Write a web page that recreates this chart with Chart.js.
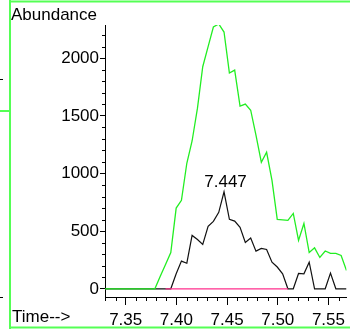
<!DOCTYPE html>
<html>
<head>
<meta charset="utf-8">
<script src="https://cdn.jsdelivr.net/npm/chart.js@4.4.0/dist/chart.umd.min.js"></script>
<style>
html, body { margin: 0; padding: 0; background: #fff; }
#wrap { width: 350px; height: 329px; }
</style>
</head>
<body>
<div id="wrap"><canvas id="ionChart" width="350" height="329"></canvas></div>
<script>
// scan times (min)
const times = [7.3263, 7.3315, 7.3368, 7.3420, 7.3473, 7.3525, 7.3578, 7.3630, 7.3683, 7.3735,
  7.3788, 7.3840, 7.3893, 7.3945, 7.3998, 7.4050, 7.4103, 7.4155, 7.4208, 7.4260,
  7.4313, 7.4365, 7.4418, 7.4470, 7.4523, 7.4575, 7.4628, 7.4680, 7.4733, 7.4785,
  7.4838, 7.4890, 7.4943, 7.4995, 7.5048, 7.5100, 7.5153, 7.5205, 7.5258, 7.5310,
  7.5363, 7.5415, 7.5468, 7.5520, 7.5573, 7.5625, 7.5678, 7.5730]

// green trace
const ticAbundance = [0, 0, 0, 0, 0, 0, 0, 0, 0, 0,
  0, 107, 211, 315, 700, 767, 1089, 1282, 1567, 1926,
  2100, 2271, 2297, 2227, 1871, 1897, 1584, 1602, 1549, 1332,
  1097, 1184, 941, 602, 598, 594, 654, 420, 567, 315,
  355, 272, 328, 307, 307, 289, 159, 120]

// black trace
const ionAbundance = [0, 0, 0, 0, 0, 0, 0, 0, 0, 0,
  0, 0, 0, 0, 130, 240, 222, 463, 428, 385,
  541, 585, 663, 841, 602, 587, 533, 402, 441, 327,
  350, 341, 231, 189, 130, 0, 0, 133, 130, 231,
  0, 0, 0, 136, 0, 0, 0, 0]

// integration baseline
const baseTimes = [7.3893, 7.5100]
const baseValues = [0, 0]

const xTicks = [7.35, 7.40, 7.45, 7.50, 7.55]
const yTicks = [0, 500, 1000, 1500, 2000]
const peakTime = 7.447
const peakLabel = "7.447"

const FONT = "Liberation Sans, Arial, sans-serif"

function toPoints(xs, ys) {
  return xs.map((x, i) => ({ x: x, y: ys[i] }))
}

const extrasPlugin = {
  id: 'extras',
  beforeDraw(chart) {
    const ctx = chart.ctx
    ctx.save()
    ctx.fillStyle = '#fff'
    ctx.fillRect(0, 0, chart.width, chart.height)
    // green frame
    ctx.strokeStyle = '#55ff55'
    ctx.lineWidth = 2
    ctx.beginPath()
    ctx.moveTo(10, 1.5); ctx.lineTo(350, 1.5)
    ctx.moveTo(10, 0); ctx.lineTo(10, 329)
    ctx.moveTo(10, 327.5); ctx.lineTo(350, 327.5)
    ctx.moveTo(0, 111); ctx.lineTo(10, 111)
    ctx.stroke()
    ctx.strokeStyle = '#000'
    ctx.lineWidth = 1
    ctx.beginPath()
    ctx.moveTo(0, 79.5); ctx.lineTo(3, 79.5)
    ctx.moveTo(0, 297.5); ctx.lineTo(3, 297.5)
    ctx.stroke()
    ctx.restore()
  },
  afterDraw(chart) {
    const ctx = chart.ctx
    const xs = chart.scales.x
    const ys = chart.scales.y
    ctx.save()
    ctx.strokeStyle = '#000'
    ctx.lineWidth = 1
    ctx.beginPath()
    // minor ticks on x
    for (let i = 733; i <= 756; i++) {
      if (i % 5 === 0) continue
      const px = Math.round(xs.getPixelForValue(i / 100)) + 0.5
      ctx.moveTo(px, xs.top)
      ctx.lineTo(px, xs.top + 4)
    }
    // minor ticks on y
    for (let v = 100; v <= 2200; v += 100) {
      if (v % 500 === 0) continue
      const py = Math.round(ys.getPixelForValue(v)) + 0.5
      ctx.moveTo(ys.right - 3, py)
      ctx.lineTo(ys.right, py)
    }
    ctx.stroke()

    ctx.fillStyle = '#000'
    ctx.font = '17px ' + FONT
    ctx.textAlign = 'left'
    ctx.textBaseline = 'alphabetic'
    ctx.fillText('Abundance', 11, 20)
    ctx.fillText('Time-->', 12, 322)

    const k = times.indexOf(peakTime)
    const px = xs.getPixelForValue(peakTime)
    const py = ys.getPixelForValue(ionAbundance[k])
    ctx.textAlign = 'center'
    ctx.fillText(peakLabel, px + 1.5, py - 4.5)
    ctx.restore()
  }
}

const ctx = document.getElementById('ionChart').getContext('2d')
const myChart = new Chart(ctx, {
  type: 'line',
  data: {
    datasets: [
      {
        label: 'baseline',
        data: toPoints(baseTimes, baseValues),
        borderColor: '#ff2e8c',
        borderWidth: 1.2,
        pointRadius: 0,
        order: 0
      },
      {
        label: 'TIC',
        data: toPoints(times, ticAbundance),
        borderColor: '#22ee22',
        borderWidth: 1.3,
        pointRadius: 0,
        order: 1
      },
      {
        label: 'ion',
        data: toPoints(times, ionAbundance),
        borderColor: '#111',
        borderWidth: 1.2,
        pointRadius: 0,
        order: 2
      }
    ]
  },
  options: {
    responsive: false,
    animation: false,
    devicePixelRatio: 1,
    layout: { padding: { top: 25, left: 0, right: 0, bottom: 0 } },
    plugins: { legend: { display: false }, tooltip: { enabled: false } },
    elements: { line: { tension: 0 } },
    scales: {
      x: {
        type: 'linear',
        min: 7.3296,
        max: 7.5678,
        afterBuildTicks: (s) => { s.ticks = xTicks.map(v => ({ value: v })) },
        afterFit: (s) => { s.height = 32 },
        grid: { drawOnChartArea: false, tickLength: 8, color: '#000' },
        border: { color: '#000', width: 1 },
        ticks: {
          color: '#000',
          padding: 5,
          maxRotation: 0,
          font: { size: 17, family: FONT },
          callback: (v) => Number(v).toFixed(2)
        }
      },
      y: {
        type: 'linear',
        min: -71,
        max: 2288,
        afterBuildTicks: (s) => { s.ticks = yTicks.map(v => ({ value: v })) },
        afterFit: (s) => { s.width = 105 },
        grid: { drawOnChartArea: false, tickLength: 5, color: '#000' },
        border: { color: '#000', width: 1 },
        ticks: {
          color: '#000',
          padding: 1,
          font: { size: 17, family: FONT },
          callback: (v) => String(v)
        }
      }
    }
  },
  plugins: [extrasPlugin]
})
</script>
</body>
</html>
